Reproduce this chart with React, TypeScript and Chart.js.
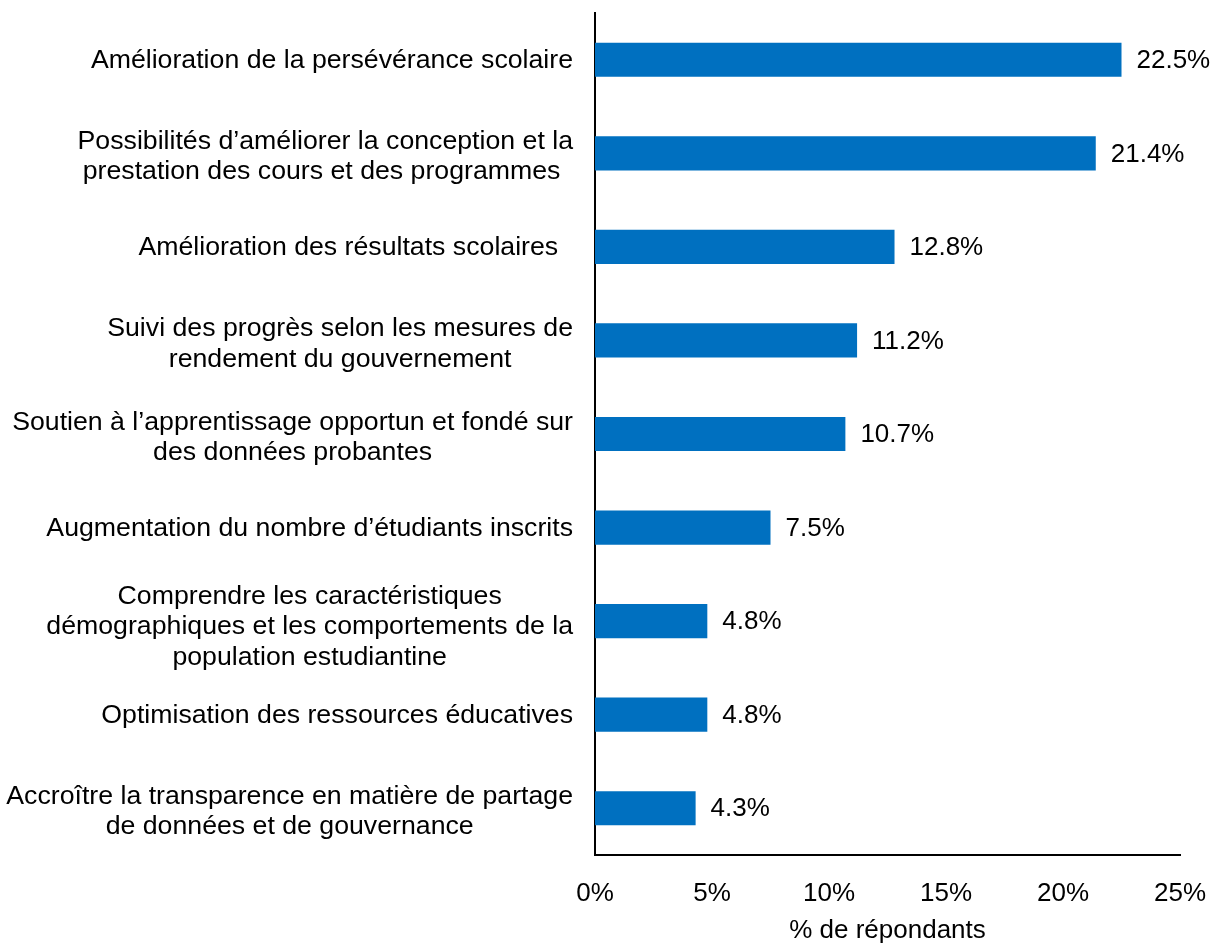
import React, { useEffect, useRef } from "react";
import { Chart, registerables } from "chart.js";

Chart.register(...registerables);

const categories: string[][] = [
  ["Amélioration de la persévérance scolaire"],
  ["Possibilités d’améliorer la conception et la", "prestation des cours et des programmes "],
  ["Amélioration des résultats scolaires  "],
  ["Suivi des progrès selon les mesures de", "rendement du gouvernement"],
  ["Soutien à l’apprentissage opportun et fondé sur", "des données probantes"],
  ["Augmentation du nombre d’étudiants inscrits"],
  ["Comprendre les caractéristiques", "démographiques et les comportements de la", "population estudiantine"],
  ["Optimisation des ressources éducatives"],
  ["Accroître la transparence en matière de partage", "de données et de gouvernance"],
];
const values: number[] = [22.5, 21.4, 12.8, 11.2, 10.7, 7.5, 4.8, 4.8, 4.3];
const xTicks: number[] = [0, 5, 10, 15, 20, 25];
const axisTitle = "% de répondants";

const FONT = "Liberation Sans, Arial, sans-serif";
const FS = 26;
const LABEL_FS = 26.7;

const labelsPlugin = {
  id: "customLabels",
  afterDraw(chart: any) {
    const ctx = chart.ctx;
    const yScale = chart.scales.y;
    const area = chart.chartArea;
    ctx.save();
    ctx.font = `${LABEL_FS}px ${FONT}`;
    ctx.fillStyle = "#000";
    ctx.textBaseline = "middle";
    ctx.textAlign = "center";
    const lh = 30.5;
    categories.forEach((lines, i) => {
      const cy = yScale.getPixelForValue(i) + 1 + (lines.length - 1) * 2.5;
      const w = Math.max(...lines.map((l) => ctx.measureText(l).width));
      const cx = area.left - 22 - w / 2;
      lines.forEach((l, j) => {
        const y = cy + (j - (lines.length - 1) / 2) * lh;
        ctx.fillText(l, cx, y);
      });
    });
    const meta = chart.getDatasetMeta(0);
    ctx.font = `${FS}px ${FONT}`;
    ctx.textAlign = "left";
    meta.data.forEach((bar: any, i: number) => {
      ctx.fillText(values[i].toFixed(1) + "%", bar.x + 15, bar.y + 1);
    });
    ctx.restore();
  },
};

export default function App() {
  const ref = useRef<HTMLCanvasElement | null>(null);
  useEffect(() => {
    document.body.style.margin = "0";
    const canvas = ref.current!;
    const chart = new Chart(canvas, {
      type: "bar",
      data: {
        labels: categories.map((c) => c.join(" ")),
        datasets: [
          {
            data: values,
            backgroundColor: "#0070C0",
            borderWidth: 0,
            barPercentage: 0.365,
            categoryPercentage: 1,
          },
        ],
      },
      options: {
        indexAxis: "y",
        animation: false,
        responsive: false,
        maintainAspectRatio: false,
        layout: { padding: { top: 13, right: 34, left: 0, bottom: 0 } },
        plugins: {
          legend: { display: false },
          tooltip: { enabled: false },
        },
        scales: {
          x: {
            min: 0,
            max: 25,
            afterBuildTicks: (s: any) => {
              s.ticks = xTicks.map((v) => ({ value: v }));
            },
            grid: { display: false, drawTicks: false },
            border: { display: true, color: "#000", width: 2 },
            ticks: {
              callback: (v: any) => v + "%",
              color: "#000",
              font: { family: FONT, size: FS },
              padding: 23,
              maxRotation: 0,
            },
            title: {
              display: true,
              text: axisTitle,
              color: "#000",
              font: { family: FONT, size: FS },
              padding: { top: 4, bottom: -2 },
            },
            afterFit: (s: any) => {
              s.height = 89;
              s.paddingRight = 0;
              s.paddingLeft = 0;
            },
          },
          y: {
            grid: { display: false, drawTicks: false },
            border: { display: true, color: "#000", width: 2 },
            ticks: { display: false },
            afterFit: (s: any) => {
              s.width = 595;
            },
          },
        },
      },
      plugins: [labelsPlugin],
    });
    return () => chart.destroy();
  }, []);
  return <canvas ref={ref} width={1214} height={944} style={{ display: "block" }} />;
}
